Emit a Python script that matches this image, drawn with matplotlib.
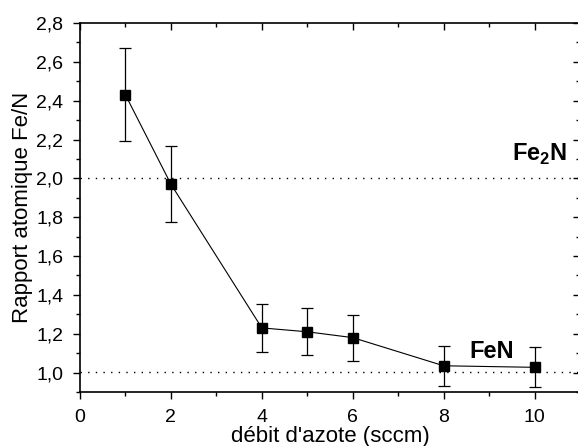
import matplotlib
matplotlib.use("Agg")
import matplotlib.pyplot as plt
from matplotlib.ticker import FuncFormatter, MultipleLocator

# nitrogen flow (sccm) and Fe/N ratio with errors
debit = [1, 2, 4, 5, 6, 8, 10]
rapport = [2.43, 1.97, 1.23, 1.21, 1.18, 1.035, 1.027]
erreur = [0.24, 0.195, 0.122, 0.12, 0.118, 0.103, 0.103]
ref_niveaux = [2.0, 1.005]
ref_noms = ["Fe$_\\mathbf{2}$N", "FeN"]
ref_pos = [(10.1, 2.125), (9.06, 1.11)]

plt.rcParams['font.family'] = ['Liberation Sans', 'DejaVu Sans']
plt.rcParams['mathtext.fontset'] = 'custom'
plt.rcParams['mathtext.rm'] = 'Liberation Sans'
plt.rcParams['mathtext.bf'] = 'Liberation Sans:bold'

fig = plt.figure(figsize=(5.78, 4.46), dpi=100)
ax = fig.add_axes([0.1384, 0.1211, 0.8651, 0.8273])

for lvl in ref_niveaux:
    ax.axhline(lvl, color='black', linestyle=(0, (1, 4.5)), linewidth=1)

ax.errorbar(debit, rapport, yerr=erreur, color='black', marker='s',
            markersize=6.5, linewidth=0.8, elinewidth=0.9, capsize=4, capthick=0.9)

for nom, (px, py) in zip(ref_noms, ref_pos):
    ax.text(px, py, nom, fontsize=17, fontweight='bold', ha='center', va='center')

ax.set_xlim(0, 11)
ax.set_ylim(0.9, 2.8)
ax.xaxis.set_major_locator(MultipleLocator(2))
ax.xaxis.set_minor_locator(MultipleLocator(1))
ax.yaxis.set_major_locator(MultipleLocator(0.2))
ax.yaxis.set_minor_locator(MultipleLocator(0.1))
ax.yaxis.set_major_formatter(FuncFormatter(lambda v, p: f"{v:.1f}".replace('.', ',')))

ax.tick_params(which='both', direction='out', labelsize=14, width=1)
ax.tick_params(which='major', length=5)
ax.tick_params(which='minor', length=3)
ax.tick_params(axis='x', which='major', pad=7)
ax.tick_params(axis='y', which='major', pad=7)
ax.tick_params(which='both', top=True, right=True)
for sp in ax.spines.values():
    sp.set_linewidth(1.2)

# top/right ticks point into the plot
for t in ax.xaxis.get_major_ticks() + ax.xaxis.get_minor_ticks():
    t.tick2line.set_marker(matplotlib.lines.TICKDOWN)
for t in ax.yaxis.get_major_ticks() + ax.yaxis.get_minor_ticks():
    t.tick2line.set_marker(matplotlib.lines.TICKLEFT)

ax.set_xlabel("débit d'azote (sccm)", fontsize=16, labelpad=0)
ax.set_ylabel("Rapport atomique Fe/N", fontsize=16, labelpad=2)

fig.savefig("out.png", dpi=100)
